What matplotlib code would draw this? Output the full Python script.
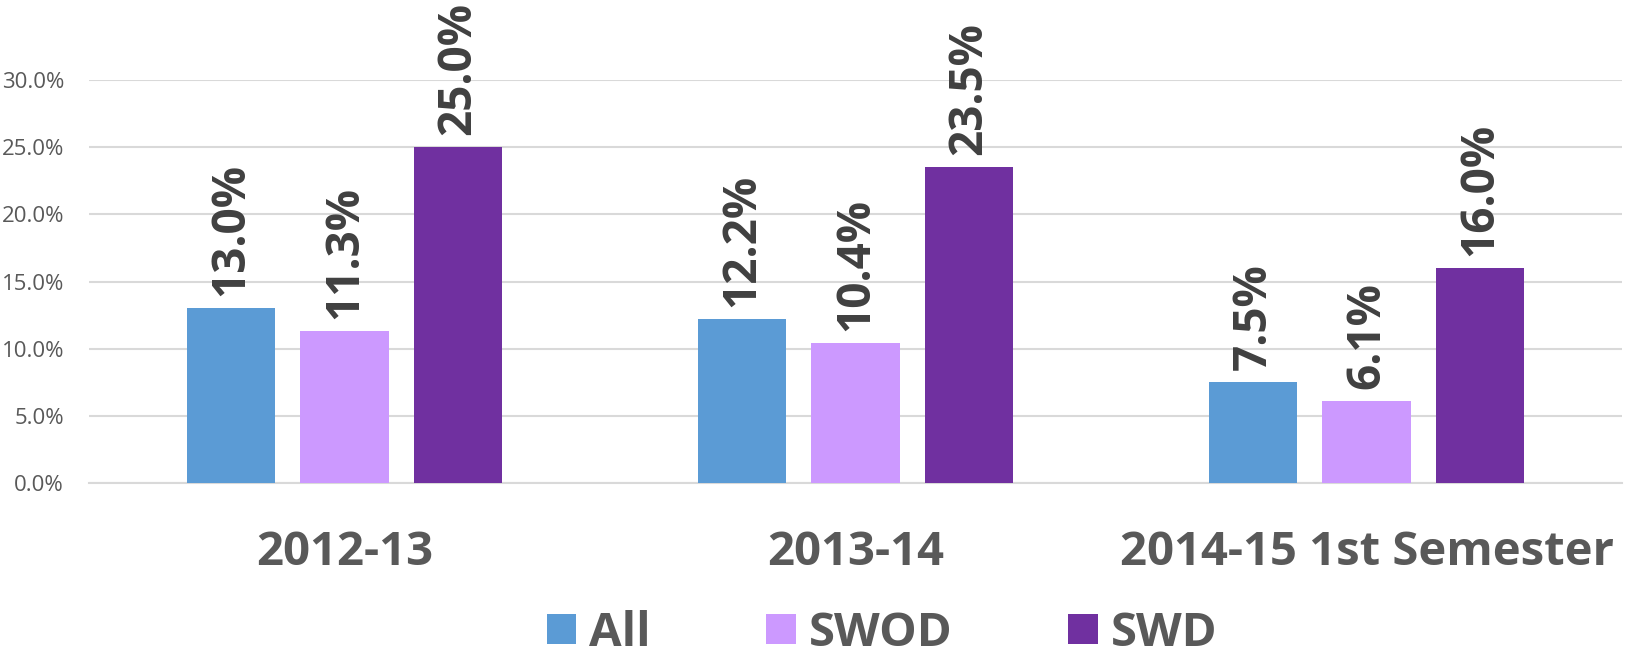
import numpy as np
import matplotlib
matplotlib.use("Agg")
import matplotlib.pyplot as plt
from matplotlib.patches import Patch

# data
categories = ["2012-13", "2013-14", "2014-15 1st Semester"]
series_names = ["All", "SWOD", "SWD"]
all_vals = [13.0, 12.2, 7.5]
swod_vals = [11.3, 10.4, 6.1]
swd_vals = [25.0, 23.5, 16.0]
yticks = [0, 5, 10, 15, 20, 25, 30]

colors = ["#5B9BD5", "#CC99FF", "#7030A0"]

plt.rcParams["font.family"] = ["Open Sans", "DejaVu Sans"]

fig = plt.figure(figsize=(16.32, 6.57), dpi=100)
ax = fig.add_axes([89 / 1632, 1 - 483 / 657, (1622 - 89) / 1632, (483 - 80) / 657])

x = np.arange(len(categories))
width = 0.173
offset = 0.222

for i, (vals, name) in enumerate(zip([all_vals, swod_vals, swd_vals], series_names)):
    xs = x + (i - 1) * offset
    ax.bar(xs, vals, width=width, color=colors[i], zorder=3, label=name)
    for xx, v in zip(xs, vals):
        ax.text(xx, v + 0.9, f"{v:.1f}%", rotation=90, ha="center", va="bottom",
                fontsize=33, fontweight="bold", color="#404040", clip_on=False)

ax.set_xlim(-0.5, 2.5)
ax.set_ylim(0, 30)
ax.set_yticks(yticks)
ax.set_yticklabels([f"{t:.1f}%" for t in yticks], fontsize=16, color="#595959")
ax.set_xticks(x)
ax.set_xticklabels(categories, fontsize=34, fontweight="bold", color="#595959")
ax.tick_params(axis="x", length=0, pad=33)
ax.tick_params(axis="y", length=0, pad=18)

ax.grid(axis="y", color="#D9D9D9", linewidth=1.5, zorder=0)
for s in ["top", "right", "left"]:
    ax.spines[s].set_visible(False)
ax.spines["bottom"].set_color("#D9D9D9")
ax.spines["bottom"].set_linewidth(1.5)

handles = [Patch(facecolor=c, label=n) for c, n in zip(colors, series_names)]
leg = fig.legend(handles=handles, loc="center", bbox_to_anchor=(882 / 1632, 1 - 633 / 657),
                 ncol=3, frameon=False, fontsize=34, handlelength=0.62, handleheight=0.62,
                 handletextpad=0.28, columnspacing=2.45, borderpad=0)
for t in leg.get_texts():
    t.set_color("#595959")
    t.set_fontweight("bold")

fig.savefig("out.png", dpi=100)
